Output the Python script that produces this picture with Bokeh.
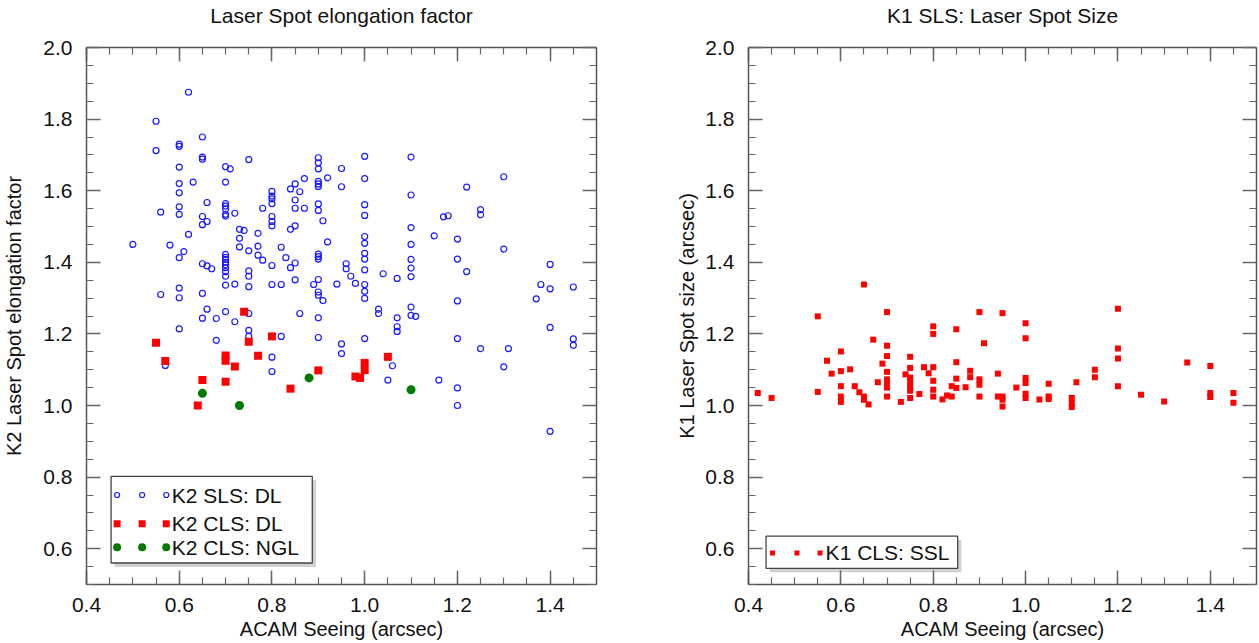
from bokeh.plotting import figure
from bokeh.layouts import row
from bokeh.models import Range1d, LinearAxis, SingleIntervalTicker, PrintfTickFormatter
from bokeh.core.properties import value
from bokeh.embed import file_html
from bokeh.resources import INLINE

FONT = "Liberation Sans"

# ---------------- data: left panel (K2 elongation) ----------------
k2_sls_dl_seeing = [
    0.62, 0.55, 0.65, 0.60, 0.60, 0.55, 0.65, 0.65, 0.75, 0.60, 0.70, 0.71, 0.90, 0.90, 0.90, 0.95,
    0.60, 0.63, 0.70, 0.60, 0.87, 0.92, 0.95, 0.90, 0.90, 0.90, 0.85, 0.84, 0.86, 0.80, 0.80, 0.80,
    0.80, 0.85, 0.85, 0.87, 0.78, 0.90, 0.90, 0.60, 0.60, 0.56, 0.66, 0.65, 0.65, 0.66, 0.70, 0.70,
    0.70, 0.70, 0.70, 0.72, 0.80, 0.80, 0.80, 0.84, 0.85, 0.91, 0.62, 0.73, 0.74, 0.77, 0.73, 0.73,
    0.50, 0.58, 0.61, 0.60, 0.75, 0.77, 0.77, 0.78, 0.82, 0.83, 0.84, 0.85, 0.80, 0.90, 0.90, 0.90,
    0.92, 0.96, 0.96, 0.65, 0.66, 0.67, 0.70, 0.70, 0.70, 0.70, 0.70, 0.70, 0.70, 0.70, 0.75, 0.75,
    1.00, 1.10, 1.00, 1.22, 1.30, 1.10, 1.00, 1.00, 1.17, 1.18, 1.25, 1.25, 1.10, 1.15, 1.20, 1.00,
    1.00, 1.10, 1.30, 1.00, 1.00, 1.10, 1.20, 1.40, 0.97, 1.00, 1.04, 1.07, 1.10, 1.10, 1.22, 0.70,
    0.72, 0.75, 0.80, 0.82, 0.85, 0.89, 0.90, 0.90, 0.90, 0.91, 0.94, 0.60, 0.60, 0.56, 0.65, 0.66,
    0.65, 0.68, 0.70, 0.72, 0.75, 0.86, 0.90, 0.60, 0.75, 0.75, 0.68, 0.82, 0.90, 0.95, 0.95, 0.57,
    0.80, 0.80, 0.98, 1.00, 1.00, 1.00, 1.38, 1.40, 1.45, 1.37, 1.20, 1.03, 1.03, 1.10, 1.10, 1.11,
    1.07, 1.07, 1.07, 1.40, 1.00, 1.20, 1.25, 1.31, 1.45, 1.45, 1.06, 1.30, 1.05, 1.16, 1.20, 1.20,
    1.40,
]
k2_sls_dl_elong = [
    1.875, 1.794, 1.750, 1.730, 1.724, 1.712, 1.694, 1.688, 1.687, 1.666, 1.667, 1.661, 1.692, 1.678, 1.661, 1.662,
    1.620, 1.624, 1.624, 1.594, 1.634, 1.636, 1.611, 1.626, 1.619, 1.612, 1.619, 1.605, 1.597, 1.598, 1.585, 1.577,
    1.564, 1.574, 1.551, 1.551, 1.551, 1.563, 1.545, 1.555, 1.534, 1.540, 1.567, 1.528, 1.505, 1.514, 1.564, 1.557,
    1.549, 1.534, 1.529, 1.537, 1.528, 1.514, 1.502, 1.492, 1.502, 1.516, 1.478, 1.492, 1.489, 1.481, 1.467, 1.443,
    1.450, 1.448, 1.430, 1.413, 1.432, 1.445, 1.420, 1.406, 1.442, 1.413, 1.385, 1.398, 1.391, 1.423, 1.416, 1.409,
    1.457, 1.396, 1.382, 1.396, 1.390, 1.382, 1.422, 1.414, 1.408, 1.400, 1.393, 1.385, 1.374, 1.361, 1.376, 1.361,
    1.696, 1.694, 1.634, 1.610, 1.639, 1.588, 1.561, 1.531, 1.527, 1.530, 1.547, 1.533, 1.497, 1.474, 1.465, 1.472,
    1.453, 1.450, 1.437, 1.425, 1.409, 1.408, 1.409, 1.394, 1.361, 1.379, 1.368, 1.355, 1.384, 1.360, 1.374, 1.336,
    1.339, 1.332, 1.338, 1.338, 1.351, 1.338, 1.352, 1.317, 1.308, 1.293, 1.339, 1.328, 1.301, 1.310, 1.313, 1.269,
    1.244, 1.243, 1.262, 1.234, 1.257, 1.257, 1.245, 1.214, 1.210, 1.193, 1.182, 1.193, 1.190, 1.172, 1.145, 1.112,
    1.135, 1.095, 1.341, 1.338, 1.319, 1.299, 1.338, 1.326, 1.331, 1.298, 1.292, 1.269, 1.257, 1.275, 1.252, 1.249,
    1.245, 1.220, 1.207, 1.218, 1.187, 1.187, 1.159, 1.159, 1.186, 1.168, 1.111, 1.108, 1.071, 1.071, 1.049, 1.000,
    0.928,
]
k2_cls_dl_seeing = [0.55, 0.57, 0.64, 0.65, 0.70, 0.70, 0.70, 0.72, 0.74, 0.75, 0.77, 0.80, 0.84, 0.90,
                    0.98, 0.99, 1.00, 1.00, 1.05]
k2_cls_dl_elong = [1.175, 1.124, 1.000, 1.071, 1.140, 1.125, 1.066, 1.109, 1.262, 1.178, 1.139, 1.193, 1.047, 1.098,
                   1.081, 1.077, 1.119, 1.099, 1.136]
k2_cls_ngl_seeing = [0.65, 0.73, 0.88, 1.10]
k2_cls_ngl_elong = [1.034, 1.000, 1.077, 1.044]

# ---------------- data: right panel (K1 spot size) ----------------
k1_cls_ssl_seeing = [
    0.42, 0.45, 0.55, 0.55, 0.65, 0.57, 0.58, 0.60, 0.60, 0.60, 0.60, 0.60, 0.62, 0.63, 0.64, 0.65,
    0.65, 0.66, 0.67, 0.68, 0.69, 0.70, 0.70, 0.70, 0.70, 0.70, 0.70, 0.70, 0.70, 0.73, 0.75, 0.75,
    0.74, 0.75, 0.75, 0.75, 0.75, 0.75, 0.77, 0.78, 0.79, 0.80, 0.80, 0.80, 0.80, 0.80, 0.80, 0.82,
    0.83, 0.84, 0.84, 0.85, 0.85, 0.85, 0.85, 0.87, 0.88, 0.88, 0.90, 0.90, 0.90, 0.90, 0.91, 0.94,
    0.94, 0.95, 0.95, 0.95, 0.95, 0.98, 1.00, 1.00, 1.00, 1.00, 1.00, 1.00, 1.03, 1.05, 1.05, 1.05,
    1.10, 1.10, 1.10, 1.11, 1.15, 1.15, 1.20, 1.20, 1.20, 1.20, 1.25, 1.30, 1.35, 1.40, 1.40, 1.40,
    1.45, 1.45,
]
k1_cls_ssl_size = [
    1.035, 1.021, 1.249, 1.038, 1.338, 1.125, 1.089, 1.151, 1.096, 1.054, 1.025, 1.010, 1.101, 1.054, 1.037, 1.025,
    1.016, 1.003, 1.184, 1.065, 1.117, 1.261, 1.167, 1.138, 1.094, 1.073, 1.061, 1.050, 1.025, 1.010, 1.136, 1.105,
    1.087, 1.078, 1.067, 1.053, 1.041, 1.021, 1.032, 1.107, 1.090, 1.221, 1.200, 1.107, 1.069, 1.044, 1.025, 1.017,
    1.028, 1.025, 1.054, 1.213, 1.121, 1.075, 1.049, 1.051, 1.097, 1.079, 1.261, 1.073, 1.058, 1.025, 1.174, 1.089,
    1.025, 1.258, 1.025, 1.016, 0.997, 1.050, 1.230, 1.188, 1.077, 1.063, 1.033, 1.021, 1.017, 1.061, 1.025, 1.018,
    1.021, 1.008, 0.996, 1.065, 1.100, 1.079, 1.270, 1.159, 1.131, 1.054, 1.030, 1.011, 1.120, 1.110, 1.035, 1.024,
    1.035, 1.008,
]

left_legend_labels = ["K2 SLS: DL", "K2 CLS: DL", "K2 CLS: NGL"]
right_legend_labels = ["K1 CLS: SSL"]

X_RANGE = (0.4, 1.5)
Y_RANGE = (0.5, 2.0)


def style_axis(ax, labels=True, label_standoff=12, axis_label_standoff=12, label_size="20px"):
    ax.ticker = SingleIntervalTicker(interval=0.2, num_minor_ticks=4)
    ax.formatter = PrintfTickFormatter(format="%.1f")
    ax.axis_line_color = "#555555"
    ax.axis_line_width = 1.5
    ax.major_tick_line_color = "#666666"
    ax.major_tick_line_width = 1.5
    ax.minor_tick_line_color = "#666666"
    ax.minor_tick_line_width = 1.2
    ax.major_tick_in = 14
    ax.major_tick_out = 0
    ax.minor_tick_in = 7
    ax.minor_tick_out = 0
    ax.axis_label_text_font = FONT
    ax.axis_label_text_font_size = label_size
    ax.axis_label_text_font_style = "normal"
    ax.axis_label_text_color = "#111111"
    ax.axis_label_standoff = axis_label_standoff
    if labels:
        ax.major_label_text_font = FONT
        ax.major_label_text_font_size = "21px"
        ax.major_label_text_color = "#111111"
        ax.major_label_standoff = label_standoff
    else:
        ax.major_label_text_font_size = "1px"
        ax.major_label_text_color = None
        ax.major_label_standoff = 0


def make_fig(title, xlabel, ylabel, fw, fh, mb_left, mb_right, ylab_standoff):
    p = figure(frame_width=fw, frame_height=fh, x_range=Range1d(*X_RANGE), y_range=Range1d(*Y_RANGE),
               output_backend="svg", toolbar_location=None,
               min_border_left=mb_left, min_border_right=mb_right,
               min_border_top=38, min_border_bottom=55)
    p.grid.visible = False
    p.outline_line_color = None
    p.background_fill_color = "white"
    p.border_fill_color = "white"
    p.xaxis.axis_label = xlabel
    p.yaxis.axis_label = ylabel
    style_axis(p.xaxis[0], True, 13, 3)
    style_axis(p.yaxis[0], True, 14, ylab_standoff)
    # box frame: unlabeled axes on top and right; the title sits on the top one
    top = LinearAxis(axis_label=title)
    right = LinearAxis()
    style_axis(top, False, axis_label_standoff=21, label_size="21px")
    style_axis(right, False)
    right.axis_label = None
    p.add_layout(top, "above")
    p.add_layout(right, "right")
    return p


def draw_legend(p, box, rows, marker_x, text_x, specs, labels, shadow):
    x0, x1, y0, y1 = box
    dx, dy = shadow
    p.quad(left=[x0 + dx], right=[x1 + dx], bottom=[y0 - dy], top=[y1 - dy],
           fill_color="#9a9a9a", fill_alpha=0.45, line_color=None)
    p.quad(left=[x0], right=[x1], bottom=[y0], top=[y1],
           fill_color="white", line_color="#444444", line_width=1.3)
    for ry, spec, lab in zip(rows, specs, labels):
        p.scatter(x=marker_x, y=[ry] * len(marker_x), **spec)
        p.text(x=[text_x], y=[ry], text=[lab], text_font=value(FONT), text_font_size="21px",
               text_baseline="middle", text_align="left", text_color="#111111")


# ---------------- left figure ----------------
p1 = make_fig("Laser Spot elongation factor", "ACAM Seeing (arcsec)", "K2 Laser Spot elongation factor",
              510, 537, 78, 76, 15)
blue_spec = dict(marker="circle", size=6, fill_color=None, line_color="#1a1aff", line_width=1.2)
red_spec = dict(marker="square", size=8, fill_color="#ff0000", line_color=None)
green_spec = dict(marker="circle", size=9, fill_color="#007a00", line_color=None)
p1.scatter(k2_sls_dl_seeing, k2_sls_dl_elong, **blue_spec)
p1.scatter(k2_cls_dl_seeing, k2_cls_dl_elong, **red_spec)
p1.scatter(k2_cls_ngl_seeing, k2_cls_ngl_elong, **green_spec)
draw_legend(p1, (0.453, 0.887, 0.56, 0.802), [0.75, 0.67, 0.604], [0.466, 0.520, 0.572], 0.584,
            [dict(blue_spec, size=5), dict(red_spec, size=7), dict(green_spec, size=8)],
            left_legend_labels, (0.008, 0.011))

# ---------------- right figure ----------------
p2 = make_fig("K1 SLS: Laser Spot Size", "ACAM Seeing (arcsec)", "K1 Laser Spot size (arcsec)",
              508, 537, 76, 2, 4)
p2.scatter(k1_cls_ssl_seeing, k1_cls_ssl_size, marker="square", size=6, fill_color="#ff0000", line_color=None)
draw_legend(p2, (0.438, 0.853, 0.545, 0.635), [0.588], [0.452, 0.505, 0.555], 0.567,
            [dict(marker="square", size=5, fill_color="#ff0000", line_color=None)],
            right_legend_labels, (0.008, 0.011))

layout = row(p1, p2)
open("out.html", "w").write(file_html(layout, INLINE))
